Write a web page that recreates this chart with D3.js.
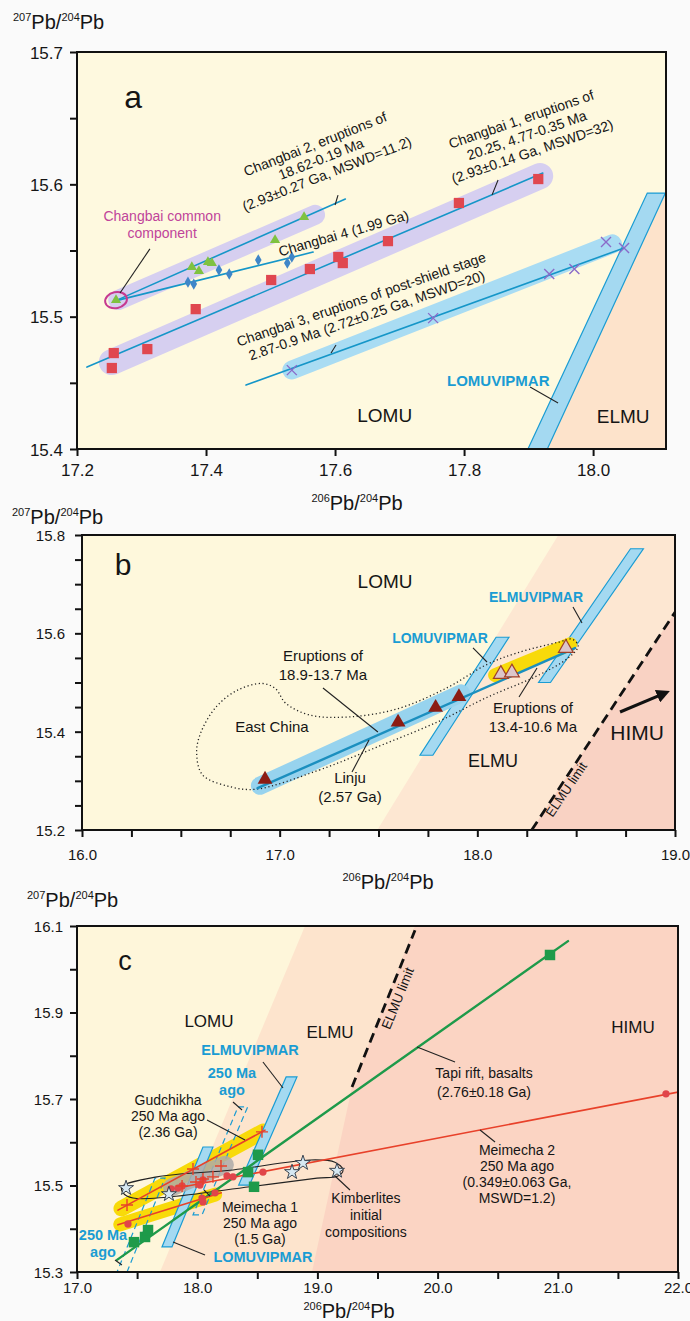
<!DOCTYPE html>
<html>
<head>
<meta charset="utf-8">
<script src="https://cdn.jsdelivr.net/npm/d3@7"></script>
<style>
body { margin: 0; background: #fafafa; }
text { font-family: "Liberation Sans", Arial, sans-serif; fill: #151515; }
</style>
</head>
<body>
<script>
// ---------- panel a ----------
const aXTicks = [17.2, 17.4, 17.6, 17.8, 18.0];
const aXLabels = [17.2, 17.4, 17.6, 17.8, 18.0];
const aYTicks = [15.4, 15.45, 15.5, 15.55, 15.6, 15.65, 15.7];
const aYLabels = [15.4, 15.5, 15.6, 15.7];
const changbai1 = [[17.257,15.4725],[17.254,15.4612],[17.309,15.4755],[17.384,15.5057],[17.501,15.5277],[17.561,15.536],[17.605,15.5451],[17.612,15.5405],[17.682,15.5571],[17.792,15.5859],[17.915,15.604]];
const changbai1Line = [[17.2155,15.4619],[17.922,15.6085]];
const changbai1Halo = [[17.254,15.4657],[17.918,15.6063]];
const changbai2 = [[17.2605,15.5125],[17.378,15.5375],[17.389,15.5345],[17.403,15.5413],[17.409,15.5405],[17.507,15.5579],[17.552,15.5753]];
const changbai2Line = [[17.262,15.5125],[17.616,15.5889]];
const changbai2Halo = [[17.264,15.5126],[17.569,15.5769]];
const changbai4 = [[17.372,15.5261],[17.381,15.5246],[17.42,15.5352],[17.436,15.5322],[17.481,15.5428],[17.526,15.5405],[17.533,15.545]];
const changbai4Line = [[17.264,15.5125],[17.566,15.5488]];
const changbai3 = [[17.533,15.4596],[17.752,15.4989],[17.932,15.5322],[17.971,15.536],[18.02,15.5564],[18.048,15.5519]];
const changbai3Line = [[17.462,15.4483],[18.048,15.5519]];
const changbai3Halo = [[17.533,15.4597],[18.03,15.555]];
const commonComp = [17.2605, 15.5125];
const aLomuvipmar = [[17.899,15.4],[17.929,15.4],[18.112,15.5934],[18.084,15.5934]];
const aElmuField = [[17.929,15.4],[18.112,15.5934],[18.113,15.5934],[18.113,15.4]];

// ---------- panel b ----------
const bXTicks = [16,16.25,16.5,16.75,17,17.25,17.5,17.75,18,18.25,18.5,18.75,19];
const bXLabels = [16, 17, 18, 19];
const bYTicks = [15.2,15.25,15.3,15.35,15.4,15.45,15.5,15.55,15.6,15.65,15.7,15.75,15.8];
const bYLabels = [15.2, 15.4, 15.6, 15.8];
const eruptOld = [[16.926,15.303],[17.599,15.419],[17.789,15.449],[17.907,15.471]];
const eruptYoung = [[18.119,15.517],[18.175,15.52],[18.448,15.57]];
const linjuLine = [[16.888,15.285],[18.494,15.57]];
const linjuHalo = [[16.9,15.29],[17.918,15.478]];
const youngHalo = [[18.09,15.515],[18.47,15.578]];
const bLomuvipmar = [[17.71,15.352],[17.775,15.352],[18.16,15.592],[18.095,15.592]];
const bElmuvipmar = [[18.31,15.5],[18.37,15.5],[18.84,15.772],[18.775,15.772]];
const bElmuField = [[17.494,15.2],[18.41,15.8],[19,15.8],[19,15.2]];
const bHimuField = [[18.275,15.2],[19,15.643],[19,15.2]];
const bElmuLimit = [[18.275,15.2],[19,15.643]];
const eastChina = [[16.88,15.283],[17.2,15.322],[17.5,15.37],[17.8,15.42],[18.05,15.47],[18.3,15.513],[18.46,15.55],[18.51,15.574],[18.48,15.588],[18.41,15.582],[18.2,15.56],[18.05,15.537],[17.85,15.49],[17.6,15.447],[17.35,15.43],[17.15,15.434],[17.03,15.458],[16.98,15.487],[16.915,15.498],[16.79,15.485],[16.68,15.451],[16.6,15.397],[16.58,15.356],[16.61,15.312],[16.75,15.288]];

// ---------- panel c ----------
const cXTicks = [17,17.5,18,18.5,19,19.5,20,20.5,21,21.5,22];
const cXLabels = [17, 18, 19, 20, 21, 22];
const cYTicks = [15.3,15.4,15.5,15.6,15.7,15.8,15.9,16.0,16.1];
const cYLabels = [15.3, 15.5, 15.7, 15.9, 16.1];
const tapi = [[17.474,15.369],[17.566,15.381],[17.591,15.397],[18.423,15.531],[18.473,15.497],[18.506,15.571],[20.935,16.033]];
const tapiLine = [[17.333,15.328],[21.085,16.065]];
const meimecha2 = [[17.782,15.492],[17.84,15.494],[17.874,15.499],[18.023,15.501],[18.048,15.513],[18.248,15.522],[18.298,15.52],[18.547,15.531],[21.9,15.712]];
const meimecha2Line = [[17.757,15.49],[22,15.716]];
const meimecha1 = [[17.424,15.411],[18.04,15.471],[18.048,15.462],[18.148,15.483]];
const meimecha1Line = [[17.34,15.409],[18.2,15.483]];
const meimecha1Halo = [[17.36,15.41],[18.15,15.479]];
const gudchikha = [[17.416,15.455],[17.965,15.538],[18.539,15.624],[17.874,15.499],[17.99,15.508],[18.048,15.515],[18.131,15.52],[18.198,15.545]];
const gudchikhaLine = [[17.341,15.443],[18.564,15.628]];
const gudchikhaHalo = [[17.37,15.447],[18.55,15.625]];
const grayField = [[17.79,15.496],[18.23,15.548]];
const kimberlites = [[17.408,15.494],[17.765,15.48],[18.789,15.531],[18.88,15.552],[19.163,15.534]];
const kimberliteField = [[17.374,15.497],[17.666,15.52],[18.298,15.536],[18.938,15.559],[19.146,15.554],[19.213,15.536],[19.171,15.522],[18.997,15.517],[18.439,15.497],[17.749,15.473],[17.466,15.471],[17.383,15.483]];
const cElmuvipmar = [[18.345,15.501],[18.435,15.501],[18.83,15.751],[18.74,15.751]];
const cLomuvipmar = [[17.707,15.358],[17.79,15.358],[18.131,15.589],[18.048,15.589]];
const cElmu250 = [[17.965,15.432],[18.04,15.432],[18.42,15.682],[18.34,15.682]];
const cLomu250 = [[17.333,15.3],[17.416,15.3],[17.732,15.517],[17.649,15.517]];
const cElmuField = [[17.69,15.3],[18.897,16.1],[22,16.1],[22,15.3]];
const cHimuField = [[18.955,15.3],[19.288,15.7277],[19.812,16.1],[22,16.1],[22,15.3]];
const cElmuLimit = [[19.288,15.7277],[19.812,16.09]];

const BLUE = "#1a9cd3";

const svg = d3.select("body").append("svg").attr("width", 690).attr("height", 1321);
const defs = svg.append("defs");
defs.append("marker").attr("id", "arr").attr("viewBox", "0 0 10 10")
    .attr("refX", 6).attr("refY", 5).attr("markerWidth", 4.5).attr("markerHeight", 4.5)
    .attr("orient", "auto")
  .append("path").attr("d", "M0,0L10,5L0,10z").attr("fill", "#111");

// helpers
function panel(id, xs, ys, bg) {
    const [x0, x1] = xs.range(), [y0, y1] = ys.range();
    defs.append("clipPath").attr("id", id).append("rect")
        .attr("x", x0).attr("y", y1).attr("width", x1 - x0).attr("height", y0 - y1);
    const g = svg.append("g");
    g.append("rect").attr("x", x0).attr("y", y1).attr("width", x1 - x0).attr("height", y0 - y1).attr("fill", bg);
    const plot = g.append("g").attr("clip-path", `url(#${id})`);
    return { g, plot, xs, ys };
}

function line(p, pts, color, w, dash, curve) {
    const l = d3.line().x(d => p.xs(d[0])).y(d => p.ys(d[1]));
    if (curve) l.curve(curve);
    return p.plot.append("path").attr("d", l(pts)).attr("fill", "none")
        .attr("stroke", color).attr("stroke-width", w)
        .attr("stroke-linecap", "round").attr("stroke-dasharray", dash || null);
}

function poly(p, pts, fill, stroke, dash) {
    const l = d3.line().x(d => p.xs(d[0])).y(d => p.ys(d[1]));
    return p.plot.append("path").attr("d", l(pts) + "Z").attr("fill", fill)
        .attr("stroke", stroke || "none").attr("stroke-width", 1.2)
        .attr("stroke-dasharray", dash || null);
}

function sym(p, pts, type, size, fill, stroke, sw) {
    p.plot.selectAll(null).data(pts).join("path")
        .attr("transform", d => `translate(${p.xs(d[0])},${p.ys(d[1])})`)
        .attr("d", d3.symbol(type, size)())
        .attr("fill", fill).attr("stroke", stroke || "none").attr("stroke-width", sw || 1);
}

function glyph(p, pts, d, color, sw) {
    p.plot.selectAll(null).data(pts).join("path")
        .attr("transform", q => `translate(${p.xs(q[0])},${p.ys(q[1])})`)
        .attr("d", d).attr("fill", "none").attr("stroke", color).attr("stroke-width", sw);
}

function note(p, n) {
    const t = p.g.append("text")
        .attr("transform", `translate(${p.xs(n.p[0])},${p.ys(n.p[1])}) rotate(${n.rot || 0})`)
        .attr("text-anchor", "middle").style("font-size", n.fs + "px")
        .style("font-weight", n.bold ? "bold" : null)
        .style("fill", n.fill || null);
    n.t.forEach((s, i) => t.append("tspan").attr("x", 0).attr("y", i * (n.lh || 0)).text(s));
}

function leader(p, seg) {
    p.g.append("line")
        .attr("x1", p.xs(seg[0][0])).attr("y1", p.ys(seg[0][1]))
        .attr("x2", p.xs(seg[1][0])).attr("y2", p.ys(seg[1][1]))
        .attr("stroke", "#222").attr("stroke-width", 1.1);
}

function axes(p, xt, xl, yt, yl, fs, xOff, yOff) {
    const [x0, x1] = p.xs.range(), [y0, y1] = p.ys.range();
    const fmt = labels => d => labels.includes(d) ? d.toFixed(1) : "";
    const xa = p.g.append("g").attr("transform", `translate(0,${y0})`)
        .call(d3.axisBottom(p.xs).tickValues(xt).tickSize(7).tickSizeOuter(0).tickFormat(fmt(xl)));
    const ya = p.g.append("g").attr("transform", `translate(${x0},0)`)
        .call(d3.axisLeft(p.ys).tickValues(yt).tickSize(7).tickSizeOuter(0).tickFormat(fmt(yl)));
    [xa, ya].forEach(a => {
        a.select(".domain").remove();
        a.selectAll("line").attr("stroke", "#111").attr("stroke-width", 2);
        a.selectAll("text").attr("font-size", fs)
            .attr("font-family", '"Liberation Sans", Arial, sans-serif').attr("fill", "#151515");
    });
    xa.selectAll("text").attr("y", xOff).attr("dy", 0);
    ya.selectAll("text").attr("x", -yOff).attr("dy", "0.36em");
    p.g.append("rect").attr("x", x0).attr("y", y1).attr("width", x1 - x0).attr("height", y0 - y1)
        .attr("fill", "none").attr("stroke", "#111").attr("stroke-width", 2);
}

function pbTitle(x, y, top, bottom, anchor, big) {
    const t = svg.append("text").attr("x", x).attr("y", y).attr("text-anchor", anchor)
        .style("font-size", big + "px");
    t.append("tspan").style("font-size", (big * 0.55) + "px").attr("dy", -big * 0.38).text(top);
    t.append("tspan").attr("dy", big * 0.38).text("Pb/");
    t.append("tspan").style("font-size", (big * 0.55) + "px").attr("dy", -big * 0.38).text(bottom);
    t.append("tspan").attr("dy", big * 0.38).text("Pb");
}

// ================= panel a =================
const A = panel("clipA",
    d3.scaleLinear().domain([17.2, 18.113]).range([77, 666]),
    d3.scaleLinear().domain([15.4, 15.7]).range([449, 52]), "#fef9df");

poly(A, aElmuField, "#fde3cb");
line(A, changbai1Halo, "#d6cff0", 26);
line(A, changbai2Halo, "#d6cff0", 20);
line(A, changbai3Halo, "#a9dcf3", 19);
poly(A, aLomuvipmar, "#a4d9f1", BLUE);
line(A, changbai1Line, "#1596c8", 1.6);
line(A, changbai2Line, "#1596c8", 1.6);
line(A, changbai4Line, "#1596c8", 1.6);
line(A, changbai3Line, "#1596c8", 1.6);
sym(A, changbai1, d3.symbolSquare, 105, "#e0474f");
sym(A, changbai2, d3.symbolTriangle, 45, "#7fc241");
sym(A, changbai4, d3.symbolDiamond, 38, "#3f86c8");
glyph(A, changbai3, "M-5,-5L5,5M-5,5L5,-5", "#8a6bc9", 1.4);
A.plot.append("ellipse")
    .attr("cx", A.xs(commonComp[0])).attr("cy", A.ys(commonComp[1]))
    .attr("rx", 11).attr("ry", 8).attr("transform", `rotate(-12,${A.xs(commonComp[0])},${A.ys(commonComp[1])})`)
    .attr("fill", "none").attr("stroke", "#c63a90").attr("stroke-width", 2);

[
    { t: ["a"], p: [17.287, 15.658], fs: 32 },
    { t: ["Changbai 2, eruptions of", "18.62-0.19 Ma", "(2.93±0.27 Ga, MSWD=11.2)"], p: [17.572, 15.627], rot: -21.5, fs: 14, lh: 16 },
    { t: ["Changbai 1, eruptions of", "20.25, 4.77-0.35 Ma", "(2.93±0.14 Ga, MSWD=32)"], p: [17.891, 15.6457], rot: -19, fs: 14, lh: 17 },
    { t: ["Changbai 4 (1.99 Ga)"], p: [17.6155, 15.5595], rot: -16, fs: 14 },
    { t: ["Changbai 3, eruptions of post-shield stage", "2.87-0.9 Ma (2.72±0.25 Ga, MSWD=20)"], p: [17.643, 15.5096], rot: -19, fs: 14, lh: 17 },
    { t: ["Changbai common", "component"], p: [17.332, 15.5723], fs: 14, lh: 17, fill: "#c0449a" },
    { t: ["LOMUVIPMAR"], p: [17.853, 15.4476], fs: 15, bold: true, fill: BLUE },
    { t: ["LOMU"], p: [17.677, 15.4204], fs: 19 },
    { t: ["ELMU"], p: [18.0465, 15.4197], fs: 19 }
].forEach(n => note(A, n));
[
    [[17.313, 15.5512], [17.2667, 15.5179]],
    [[17.6046, 15.5919], [17.6, 15.5844]],
    [[17.8527, 15.6033], [17.8434, 15.592]],
    [[17.6015, 15.4786], [17.5938, 15.4726]],
    [[17.9023, 15.4469], [17.9457, 15.4348]]
].forEach(s => leader(A, s));
axes(A, aXTicks, aXLabels, aYTicks, aYLabels, 17, 27, 14);
pbTitle(13, 29, "207", "204", "start", 20);
pbTitle(357, 510, "206", "204", "middle", 20);

// ================= panel b =================
const B = panel("clipB",
    d3.scaleLinear().domain([16, 19]).range([82, 675]),
    d3.scaleLinear().domain([15.2, 15.8]).range([830, 535]), "#fef8dc");

poly(B, bElmuField, "#fde7d2");
poly(B, bHimuField, "#f9d2c3");
line(B, bElmuLimit, "#111", 2.8, "10,6").attr("stroke-linecap", "butt");
poly(B, bLomuvipmar, "#a4d9f1", BLUE);
poly(B, bElmuvipmar, "#a4d9f1", BLUE);
line(B, linjuHalo, "#97d3ee", 18);
line(B, youngHalo, "#f8da0a", 14);
line(B, eastChina, "#222", 1.3, "1.2,2.6", d3.curveCatmullRomClosed).attr("stroke-linecap", "butt");
line(B, linjuLine, "#1b8fbf", 2.4);
sym(B, eruptOld, d3.symbolTriangle, 95, "#8c1c13");
sym(B, eruptYoung, d3.symbolTriangle, 95, "#dcc6ca", "#a0412a", 1.2);
B.g.append("line")
    .attr("x1", B.xs(18.722)).attr("y1", B.ys(15.44)).attr("x2", B.xs(18.949)).attr("y2", B.ys(15.4786))
    .attr("stroke", "#111").attr("stroke-width", 3).attr("marker-end", "url(#arr)");

[
    { t: ["b"], p: [16.2074, 15.7186], fs: 30 },
    { t: ["LOMU"], p: [17.533, 15.692], fs: 19 },
    { t: ["ELMUVIPMAR"], p: [18.297, 15.6637], fs: 14, bold: true, fill: BLUE },
    { t: ["LOMUVIPMAR"], p: [17.811, 15.5803], fs: 14, bold: true, fill: BLUE },
    { t: ["Eruptions of", "18.9-13.7 Ma"], p: [17.219, 15.5437], fs: 15, lh: 19 },
    { t: ["East China"], p: [16.961, 15.3993], fs: 15 },
    { t: ["Linju", "(2.57 Ga)"], p: [17.356, 15.2956], fs: 15, lh: 19 },
    { t: ["Eruptions of", "13.4-10.6 Ma"], p: [18.2816, 15.438], fs: 15, lh: 19 },
    { t: ["ELMU"], p: [18.079, 15.3281], fs: 18 },
    { t: ["HIMU"], p: [18.808, 15.383], fs: 21 },
    { t: ["ELMU limit"], p: [18.469, 15.2773], fs: 13, rot: -56 }
].forEach(n => note(B, n));
[
    [[18.484, 15.6535], [18.5295, 15.6209]],
    [[17.978, 15.5702], [18.049, 15.5417]],
    [[17.219, 15.4888], [17.497, 15.3993]],
    [[17.452, 15.383], [17.366, 15.318]],
    [[18.211, 15.4705], [18.302, 15.5295]]
].forEach(s => leader(B, s));
axes(B, bXTicks, bXLabels, bYTicks, bYLabels, 15, 30, 17);
pbTitle(12, 524, "207", "204", "start", 20);
pbTitle(388, 889, "206", "204", "middle", 20);

// ================= panel c =================
const C = panel("clipC",
    d3.scaleLinear().domain([17, 22]).range([77, 678]),
    d3.scaleLinear().domain([15.3, 16.1]).range([1272, 926]), "#fef6da");

poly(C, cElmuField, "#fde4cd");
poly(C, cHimuField, "#fbd4c3");
line(C, cElmuLimit, "#111", 2.8, "10,6").attr("stroke-linecap", "butt");
line(C, gudchikhaHalo, "#f8da0a", 16);
line(C, meimecha1Halo, "#f8da0a", 14);
poly(C, cLomuvipmar, "#a4d9f1", BLUE);
poly(C, cElmuvipmar, "#a4d9f1", BLUE);
poly(C, cElmu250, "none", BLUE, "6,4");
poly(C, cLomu250, "none", BLUE, "6,4");
line(C, grayField, "#aeaaa8", 18).attr("opacity", 0.85);
line(C, kimberliteField, "#222", 1.1, null, d3.curveCatmullRomClosed);
line(C, tapiLine, "#1e9a4a", 2.4);
line(C, meimecha2Line, "#e8412a", 1.6);
line(C, meimecha1Line, "#e8412a", 1.6);
line(C, gudchikhaLine, "#e8412a", 1.6);
sym(C, tapi, d3.symbolSquare, 110, "#1e9a4a");
sym(C, meimecha2, d3.symbolCircle, 42, "#e0454a");
sym(C, meimecha1, d3.symbolCircle, 42, "#e0454a");
glyph(C, gudchikha, "M-6,0H6M0,-6V6", "#e8412a", 1.4);
sym(C, kimberlites, d3.symbolStar, 70, "#d6e8f2", "#3a4450", 1);

[
    { t: ["c"], p: [17.399, 15.9983], fs: 27 },
    { t: ["LOMU"], p: [18.098, 15.8665], fs: 17 },
    { t: ["ELMU"], p: [19.105, 15.841], fs: 17 },
    { t: ["ELMUVIPMAR"], p: [18.439, 15.8017], fs: 14.5, bold: true, fill: BLUE },
    { t: ["250 Ma", "ago"], p: [18.2895, 15.7486], fs: 14.5, lh: 17, bold: true, fill: BLUE },
    { t: ["HIMU"], p: [21.6256, 15.8526], fs: 17 },
    { t: ["Tapi rift, basalts", "(2.76±0.18 Ga)"], p: [20.386, 15.7486], fs: 14, lh: 19 },
    { t: ["Meimecha 2", "250 Ma ago", "(0.349±0.063 Ga,", "MSWD=1.2)"], p: [20.6606, 15.5705], fs: 14, lh: 16 },
    { t: ["Kimberlites", "initial", "compositions"], p: [19.404, 15.4595], fs: 14, lh: 17 },
    { t: ["ELMU limit"], p: [19.704, 15.9289], fs: 13.5, rot: -68 },
    { t: ["Gudchikha", "250 Ma ago", "(2.36 Ga)"], p: [17.757, 15.6861], fs: 14, lh: 16 },
    { t: ["Meimecha 1", "250 Ma ago", "(1.5 Ga)"], p: [18.5225, 15.4387], fs: 14, lh: 16 },
    { t: ["LOMUVIPMAR"], p: [18.547, 15.3231], fs: 14.5, bold: true, fill: BLUE },
    { t: ["250 Ma", "ago"], p: [17.2163, 15.374], fs: 14.5, lh: 17, bold: true, fill: BLUE }
].forEach(n => note(C, n));
[
    [[18.547, 15.7855], [18.714, 15.7254]],
    [[18.298, 15.693], [18.373, 15.6746]],
    [[19.829, 15.8202], [20.145, 15.7855]],
    [[20.353, 15.6283], [20.478, 15.6006]],
    [[19.146, 15.522], [19.271, 15.4896]],
    [[18.0815, 15.6514], [18.398, 15.6052]],
    [[18.1065, 15.4757], [18.0566, 15.4896]],
    [[17.7987, 15.3694], [18.065, 15.3393]],
    [[17.316, 15.3277], [17.374, 15.3162]]
].forEach(s => leader(C, s));
axes(C, cXTicks, cXLabels, cYTicks, cYLabels, 15, 21, 14);
pbTitle(27, 907, "207", "204", "start", 20);
pbTitle(349, 1318, "206", "204", "middle", 20);
</script>
</body>
</html>
